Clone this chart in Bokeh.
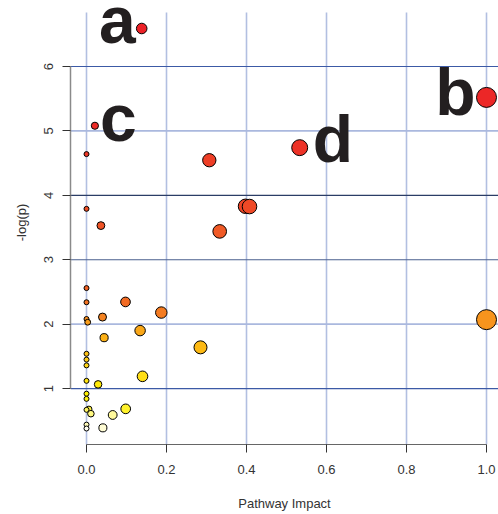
import numpy as np
from bokeh.plotting import figure
from bokeh.models import Range1d, FixedTicker, ColumnDataSource, NumeralTickFormatter
from bokeh.core.properties import value
from bokeh.embed import file_html
from bokeh.resources import INLINE

# Pathway data, sorted by -log(p) descending
impact = [0.138, 1.0, 0.021, 0.533, 0.0, 0.307, 0.3975, 0.4075, 0.0, 0.036,
          0.333, 0.0, 0.0975, 0.0, 0.187, 0.04, 0.0, 1.0, 0.003, 0.134,
          0.044, 0.285, 0.0, 0.0, 0.0, 0.14, 0.0, 0.029, 0.0, 0.0,
          0.098, 0.006, 0.0, 0.011, 0.0655, 0.0, 0.041, 0.0]
neglogp = [6.59, 5.52, 5.08, 4.74, 4.64, 4.545, 3.83, 3.826, 3.79, 3.53,
           3.44, 2.56, 2.345, 2.34, 2.18, 2.11, 2.08, 2.07, 2.03, 1.90,
           1.79, 1.64, 1.54, 1.45, 1.36, 1.19, 1.12, 1.065, 0.92, 0.84,
           0.685, 0.68, 0.67, 0.61, 0.59, 0.44, 0.39, 0.38]
label_text = ["a", "b", "c", "d"]
label_point = [0, 1, 2, 3]
x_ticks = [0.0, 0.2, 0.4, 0.6, 0.8, 1.0]
y_ticks = [1, 2, 3, 4, 5, 6]

x = np.array(impact)
y = np.array(neglogp)
n = len(x)

# heat-colour ramp by rank (R heat.colors style)
j = n // 4
i = n - j
anch_f = [0.0, 0.357, 0.607, 0.75, 0.89, 1.0]
anch_c = np.array([[236, 33, 39], [240, 90, 38], [247, 148, 29],
                   [253, 185, 19], [255, 222, 23], [255, 240, 0]], float)
order = np.argsort(-y, kind="stable")
colors = [None] * n
for rank, idx in enumerate(order):
    if rank < i:
        f = rank / (i - 1)
        c = [np.interp(f, anch_f, anch_c[:, k]) for k in range(3)]
    else:
        s = np.linspace(1 - 1 / (2 * j), 1 / (2 * j), j)[rank - i]
        c = [255 * (1 - s) + anch_c[-1, k] * s for k in range(3)]
    colors[idx] = "#%02x%02x%02x" % tuple(int(round(v)) for v in c)
sizes = 2 * (2.5 + 7.5 * np.sqrt(x))

# R-like plot region (4% extension)
xlo = x.min() - 0.04 * (x.max() - x.min())
xhi = x.max() + 0.04 * (x.max() - x.min())
ylo = y.min() - 0.04 * (y.max() - y.min())
yhi = y.max() + 0.04 * (y.max() - y.min())

W, H = 498, 514
left, bottom = 70, 70
fw, fh = W - left, H - bottom
x_end = xlo + (xhi - xlo) * fw / 432.0
y_end = ylo + (yhi - ylo) * fh / 432.0

p = figure(width=W, height=H, output_backend="svg", toolbar_location=None,
           x_range=Range1d(xlo, x_end), y_range=Range1d(ylo, y_end),
           min_border_left=left, min_border_right=0, min_border_top=0,
           min_border_bottom=bottom)
p.outline_line_color = None
p.grid.visible = False
p.background_fill_color = "white"

# grid lines
p.segment(x0=x_ticks, x1=x_ticks, y0=[ylo] * len(x_ticks), y1=[yhi] * len(x_ticks),
          line_color="#b2bfe1", line_width=1.6)
hcol = ["#3c5aa6", "#aab8de", "#4a5f8e", "#2b3d66", "#aab8de", "#3c5aa6"]
hw = [1.2, 1.6, 1.1, 1.1, 1.6, 1.2]
p.segment(x0=[xlo] * len(y_ticks), x1=[xhi] * len(y_ticks), y0=y_ticks, y1=y_ticks,
          line_color=hcol, line_width=hw)

src = ColumnDataSource(dict(x=x, y=y, c=colors, s=sizes))
p.scatter("x", "y", source=src, size="s", fill_color="c", line_color="black",
          line_width=1)

# letters
lx = [x[k] for k in label_point]
ly = [y[k] for k in label_point]
p.text(x=lx, y=ly, text=label_text,
       x_offset=[-6, -11, 5, 13], y_offset=[-9, -5, -8, -9],
       text_align=["right", "right", "left", "left"], text_baseline="alphabetic",
       text_font=value("Liberation Sans"), text_font_style="bold",
       text_font_size="66px", text_color="#231f20")

for ax in (p.xaxis[0], p.yaxis[0]):
    ax.major_tick_out = 8
    ax.major_tick_in = 0
    ax.minor_tick_line_color = None
    ax.major_tick_line_color = "#333333"
    ax.major_label_text_font = "Liberation Sans"
    ax.major_label_text_font_size = "13px"
    ax.major_label_text_color = "#333333"
    ax.axis_label_text_font = "Liberation Sans"
    ax.axis_label_text_font_size = "13px"
    ax.axis_label_text_font_style = "normal"
    ax.axis_label_text_color = "#333333"

xa = p.xaxis[0]
xa.ticker = FixedTicker(ticks=x_ticks)
xa.formatter = NumeralTickFormatter(format="0.0")
xa.bounds = (0, 1)
xa.axis_line_color = "#666666"
xa.major_label_standoff = 12
xa.axis_label = "Pathway Impact"
xa.axis_label_standoff = 19

ya = p.yaxis[0]
ya.ticker = FixedTicker(ticks=y_ticks)
ya.bounds = (1, 6)
ya.axis_line_color = "#8a8a8a"
ya.axis_line_width = 1.5
ya.major_label_orientation = "vertical"
ya.major_label_standoff = 9
ya.axis_label = "-log(p)"
ya.axis_label_standoff = 13

open("out.html", "w").write(file_html(p, INLINE))
